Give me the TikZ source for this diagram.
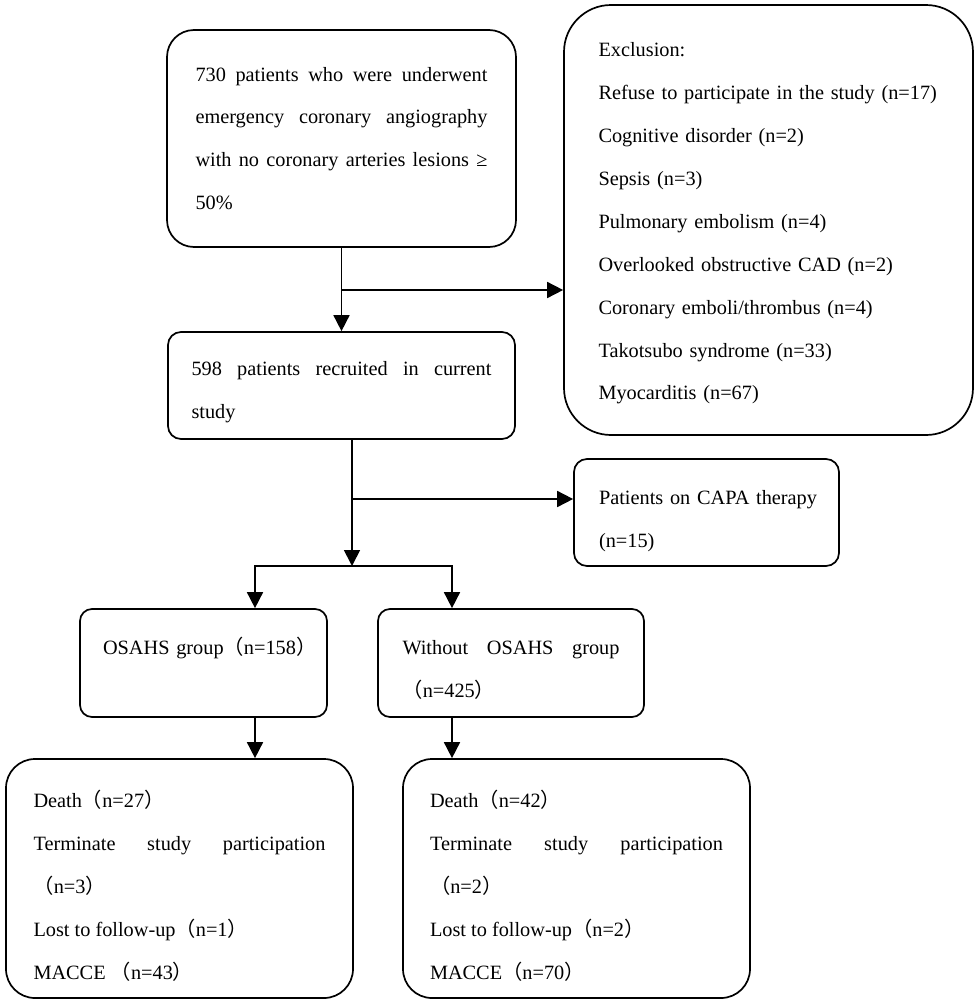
\documentclass[tikz,border=0pt]{standalone}
\usepackage{fontspec}
\setmainfont{Liberation Serif}
\newfontfamily\cjk{Noto Sans CJK SC}
\newcommand\zlp{{\cjk （}}
\newcommand\zrp{{\cjk ）}}
\newcommand\zst[1]{\rule{0pt}{#1}}
\usetikzlibrary{arrows.meta}
\begin{document}
\begin{tikzpicture}[x=1pt,y=-1pt,
  box/.style={draw,line width=1.7pt,inner sep=0pt,align=justify,
    font=\fontsize{20.3}{42.9}\selectfont},
  arr/.style={line width=1.7pt,-{Triangle[length=16pt,width=16pt]}},
  arrtwo/.style={line width=1.7pt,{Triangle[length=16pt,width=16pt]}-{Triangle[length=16pt,width=16pt]}}]
\useasboundingbox (0,0) rectangle (976,1004);

\node[box,rounded corners=27pt,minimum width=349pt,minimum height=217pt,text width=292pt]
  (box1) at (341.5,138.5)
  {730 patients who were underwent\linebreak emergency coronary angiography\linebreak with no coronary arteries lesions ≥\linebreak 50\%};

\node[box,align=left,rounded corners=47pt,minimum width=409pt,minimum height=430pt,text width=340pt]
  (excl) at (768.5,220)
  {\zst{21pt}Exclusion:\\ \mbox{Refuse to participate in the study (n=17)}\\ Cognitive disorder (n=2)\\ Sepsis (n=3)\\ Pulmonary embolism (n=4)\\ Overlooked obstructive CAD (n=2)\\ Coronary emboli/thrombus (n=4)\\ Takotsubo syndrome (n=33)\\ Myocarditis (n=67)};

\node[box,rounded corners=13pt,minimum width=347pt,minimum height=107pt,text width=300pt]
  (box2) at (341.5,385.5)
  {\zst{28pt}598 patients recruited in current\linebreak study};

\node[box,align=left,rounded corners=13pt,minimum width=265pt,minimum height=107pt,text width=215pt]
  (capa) at (706.5,512.5)
  {\zst{32pt}\mbox{Patients on CAPA therapy}\\ (n=15)};

\node[box,align=left,rounded corners=12pt,minimum width=247pt,minimum height=108pt,text width=201pt]
  (osahs) at (203.5,663)
  {\zst{26pt}\mbox{OSAHS group\zlp n=158\zrp}\\ \mbox{}};

\node[box,rounded corners=12pt,minimum width=266pt,minimum height=108pt,text width=217pt]
  (without) at (511,663)
  {\zst{28pt}Without OSAHS group\linebreak \mbox{\zlp n=425\zrp}};

\node[box,rounded corners=29pt,minimum width=347pt,minimum height=239pt,text width=292pt]
  (bl) at (179.5,878.5)
  {\zst{32pt}Death\zlp n=27\zrp\\ Terminate study participation\linebreak \mbox{\zlp n=3\zrp}\\ Lost to follow-up\zlp n=1\zrp\\ MACCE \zlp n=43\zrp};

\node[box,rounded corners=29pt,minimum width=347pt,minimum height=239pt,text width=293pt]
  (br) at (576.5,878.5)
  {\zst{32pt}Death\zlp n=42\zrp\\ Terminate study participation\linebreak \mbox{\zlp n=2\zrp}\\ Lost to follow-up\zlp n=2\zrp\\ MACCE\zlp n=70\zrp};

\coordinate (j1) at (341.5,290);
\coordinate (j2) at (352,566);
\coordinate (j3) at (352,499);
\coordinate (sl) at (255,566);
\coordinate (sr) at (452,566);

\draw[arr] (box1.south) -- (box2.north);
\draw[arr] (j1) -- (j1 -| excl.west);
\draw[arr] (j2 |- box2.south) -- (j2);
\draw[arr] (j3) -- (j3 -| capa.west);
\draw[arrtwo] (sl |- osahs.north) -- (sl) -- (sr) -- (sr |- without.north);
\draw[arr] (sl |- osahs.south) -- (sl |- bl.north);
\draw[arr] (sr |- without.south) -- (sr |- br.north);
\end{tikzpicture}
\end{document}
